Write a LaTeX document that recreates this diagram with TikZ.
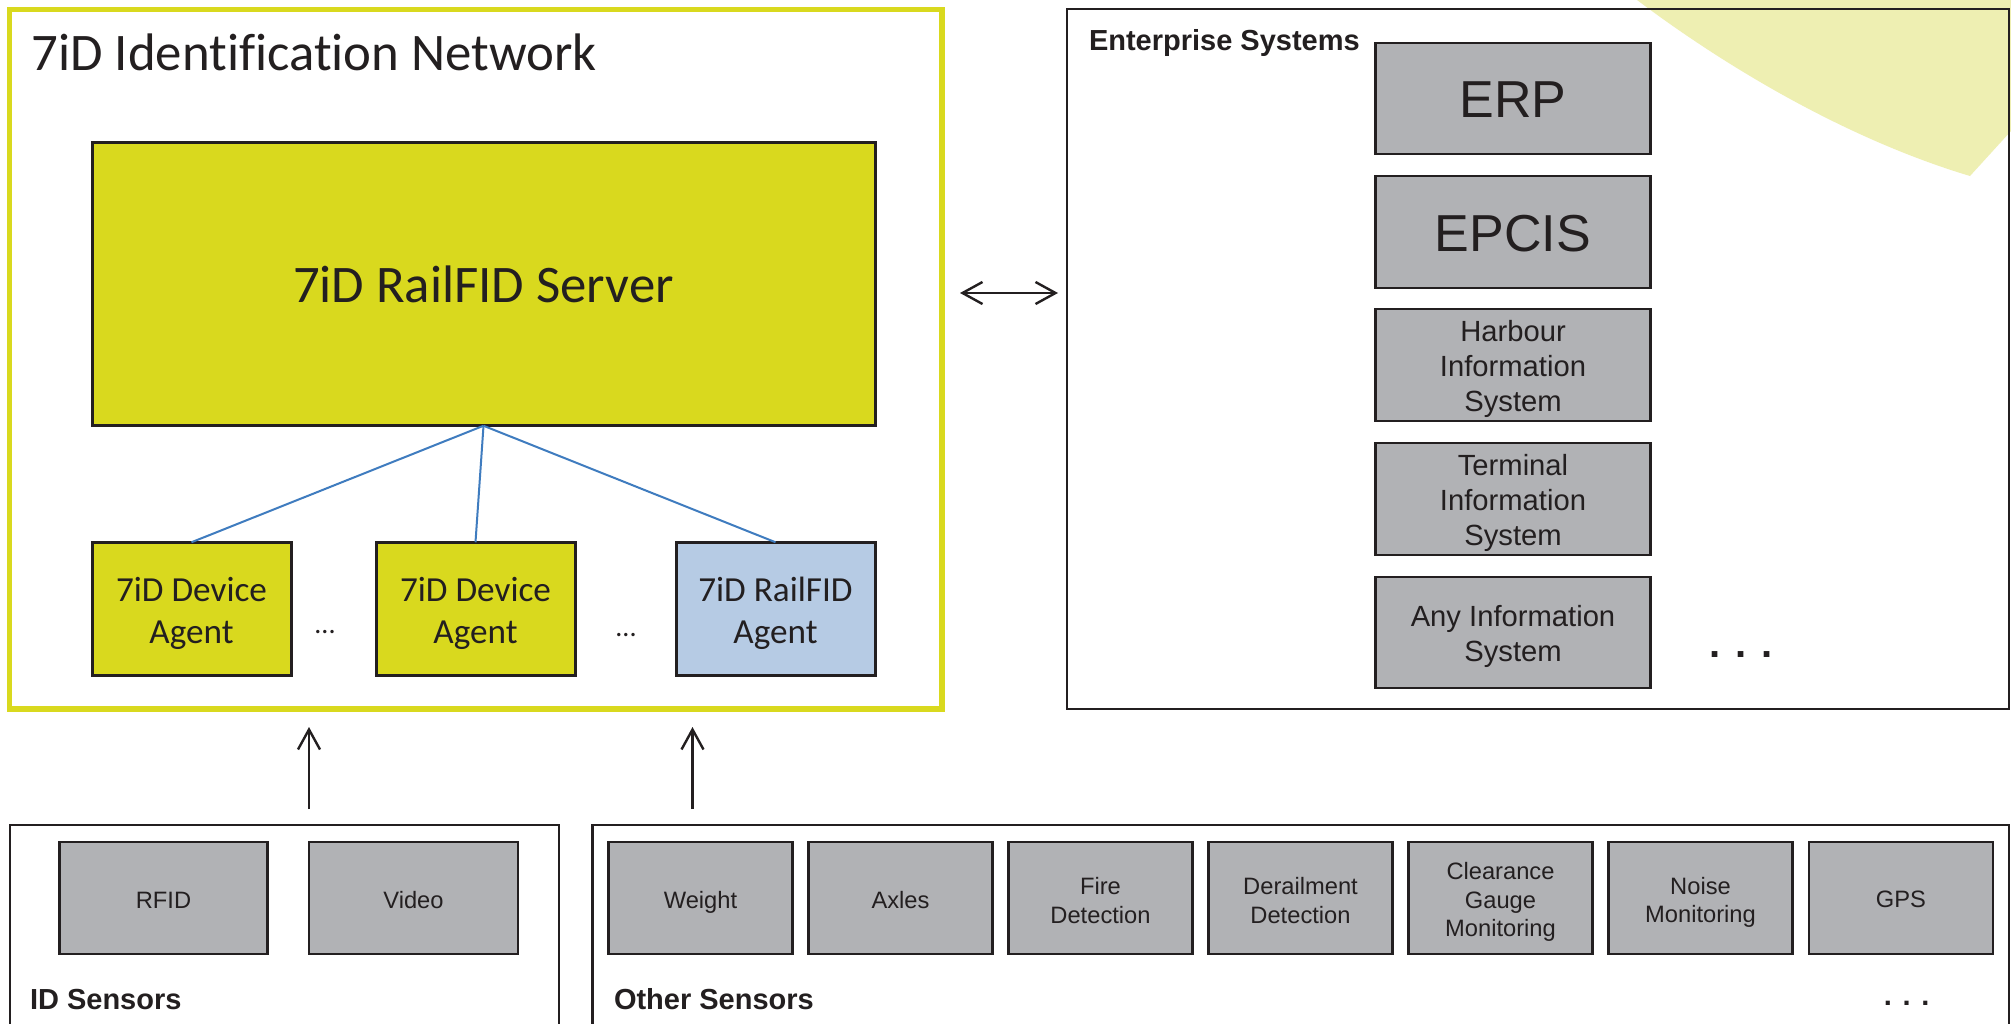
\documentclass[tikz,border=0pt]{standalone}
\usepackage{fontspec}
\setmainfont{Liberation Sans}
\newfontfamily\cali[Ligatures=NoCommon]{Carlito}
\usetikzlibrary{arrows.meta}
\definecolor{ink}{HTML}{231F20}
\definecolor{lime}{HTML}{D9D91E}
\definecolor{paleLime}{HTML}{EEEFB2}
\definecolor{skyb}{HTML}{B6CBE4}
\definecolor{grayb}{HTML}{B1B2B5}
\definecolor{linkb}{HTML}{3F7CBF}
\newcommand{\lowerby}[1]{\rule{0pt}{#1pt}}
\tikzset{
  x=1pt,y=-1pt,
  every node/.style={text=ink,inner sep=0pt,outer sep=0pt},
  frame/.style={draw=ink,line width=2.4pt,fill=none,rectangle},
  graybox/.style={draw=ink,line width=2.4pt,fill=grayb,rectangle,align=center},
  agentbox/.style={draw=ink,line width=3pt,rectangle,align=center,
     minimum width=199pt,minimum height=133.5pt,
     font=\cali\fontsize{35.2}{42}\selectfont},
  sensor/.style={graybox,minimum height=111.5pt,font=\fontsize{23.7}{28.5}\selectfont},
  entbig/.style={graybox,minimum width=275pt,minimum height=111.5pt,font=\fontsize{52}{56}\selectfont},
  entsmall/.style={graybox,minimum width=275pt,minimum height=111.5pt,font=\fontsize{29.2}{35}\selectfont},
  heading/.style={anchor=west,font=\bfseries\fontsize{29}{32}\selectfont},
  link/.style={draw=linkb,line width=2pt},
  flow/.style={draw=ink,line width=2.4pt,-{Straight Barb[length=20pt,width=22pt,line width=2.4pt]}},
  flowboth/.style={draw=ink,line width=2.4pt,{Straight Barb[length=20pt,width=22pt,line width=2.4pt]}-{Straight Barb[length=20pt,width=22pt,line width=2.4pt]}},
}
\begin{document}
\begin{tikzpicture}
\useasboundingbox (0,0) rectangle (2011,1023);
\clip (0,0) rectangle (2011,1023);
\fill[white] (0,0) rectangle (2011,1023);
% pale decoration
\fill[paleLime] (1637,0) .. controls (1730,70) and (1850,140) .. (1970,176) -- (2011,131) -- (2011,0) -- cycle;
% main frames
\node[draw=lime,line width=5.6pt,rectangle,minimum width=932.6pt,minimum height=699.4pt] (net) at (475.7,359.3) {};
\node[frame,minimum width=942pt,minimum height=700pt] (ent) at (1538,359) {};
\node[frame,minimum width=549.5pt,minimum height=260pt] (idbox) at (284.5,955) {};
\node[frame,minimum width=1416.5pt,minimum height=260pt] (otherbox) at (1300.75,955) {};
% titles
\node[anchor=base west,font=\cali\fontsize{52.8}{60}\selectfont] (title) at (31.5,70) {7iD Identification Network};
\node[heading] (enttitle) at (1089,42.5) {Enterprise Systems};
\node[heading] (idtitle) at (30,1000) {ID Sensors};
\node[heading] (othertitle) at (614,999) {Other Sensors};
% server and agents
\node[draw=ink,line width=3pt,fill=lime,rectangle,minimum width=783pt,minimum height=283.5pt,font=\cali\fontsize{52.8}{60}\selectfont] (server) at (483.5,284) {\lowerby{38}7iD RailFID Server};
\node[agentbox,fill=lime] (a1) at (191.5,609) {\lowerby{33.5}7iD Device\\Agent};
\node[agentbox,fill=lime] (a2) at (475.5,609) {\lowerby{33.5}7iD Device\\Agent};
\node[agentbox,fill=skyb] (a3) at (775.5,609) {\lowerby{33.5}7iD RailFID\\Agent};
\node[font=\cali\fontsize{28}{30}\selectfont] (e1) at (325,632) {...};
\node[font=\cali\fontsize{28}{30}\selectfont] (e2) at (626,635) {...};
\draw[link] (server.south) -- (a1.north);
\draw[link] (server.south) -- (a2.north);
\draw[link] (server.south) -- (a3.north);
% enterprise boxes
\node[entbig] (erp) at (1513,98.5) {\lowerby{38.5}ERP};
\node[entbig] (epcis) at (1513,232) {\lowerby{38.5}EPCIS};
\node[entsmall] (harbour) at (1513,365) {\lowerby{29}Harbour\\Information\\System};
\node[entsmall] (terminal) at (1513,499) {\lowerby{29}Terminal\\Information\\System};
\node[entsmall] (anyis) at (1513,632.5) {\lowerby{29}Any Information\\System};
\node[font=\bfseries\fontsize{40}{44}\selectfont] (e3) at (1741,655) {. . .};
% sensors
\node[sensor,minimum width=208pt] (rfid) at (163.5,898) {\lowerby{21.5}RFID};
\node[sensor,minimum width=209pt] (video) at (413.5,898) {\lowerby{21.5}Video};
\node[sensor,minimum width=184pt] (weight) at (700.5,898) {\lowerby{25.5}Weight};
\node[sensor,minimum width=184pt] (axles) at (900.5,898) {\lowerby{21.5}Axles};
\node[sensor,minimum width=184pt] (fire) at (1100.5,898) {\lowerby{22.5}Fire\\Detection};
\node[sensor,minimum width=184pt] (derail) at (1300.5,898) {\lowerby{22.5}Derailment\\Detection};
\node[sensor,minimum width=184pt] (clear) at (1500.5,898) {\lowerby{25.5}Clearance\\Gauge\\Monitoring};
\node[sensor,minimum width=184pt] (noise) at (1700.5,898) {\lowerby{26}Noise\\Monitoring};
\node[sensor,minimum width=184pt] (gps) at (1901,898) {\lowerby{20}GPS};
\node[font=\bfseries\fontsize{29}{32}\selectfont] (e4) at (1906.7,1003) {. . .};
% arrows
\coordinate (u1a) at (309,809); \coordinate (u1b) at (309,727);
\coordinate (u2a) at (692.5,809); \coordinate (u2b) at (692.5,727);
\coordinate (da) at (960,293); \coordinate (db) at (1058,293);
\draw[flow] (u1a) -- (u1b);
\draw[flow] (u2a) -- (u2b);
\draw[flowboth] (da) -- (db);
\end{tikzpicture}
\end{document}
